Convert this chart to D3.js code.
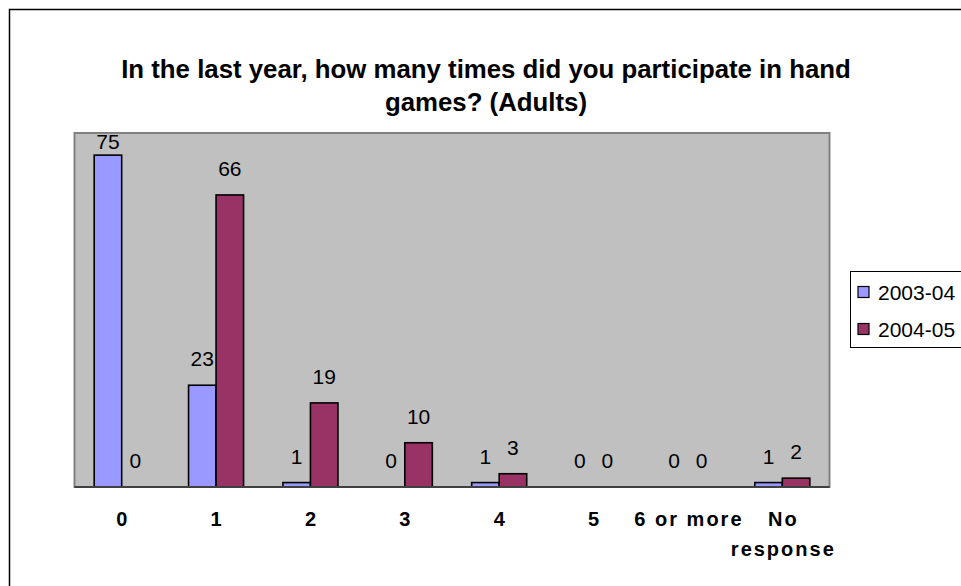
<!DOCTYPE html>
<html>
<head>
<meta charset="utf-8">
<script src="https://cdn.jsdelivr.net/npm/d3@7/dist/d3.min.js"></script>
<style>
  html, body { margin: 0; padding: 0; background: #fff; }
  svg { display: block; font-family: "Liberation Sans", Arial, sans-serif; }
</style>
</head>
<body>
<svg id="chart" width="961" height="586"></svg>
<script>
// Survey answers: hand games participation among adults (% of responses)
const categories = ["0", "1", "2", "3", "4", "5", "6 or more", "No response"];
const seriesNames = ["2003-04", "2004-05"];
const values2003 = [75, 23, 1, 0, 1, 0, 0, 1];
const values2004 = [0, 66, 19, 10, 3, 0, 0, 2];
const seriesColors = ["#9999ff", "#993366"];
const titleLines = ["In the last year, how many times did you participate in hand", "games? (Adults)"];
const yTitle = "% OF RESPONSE";

const svg = d3.select("#chart");
const plot = { left: 74.5, right: 829.5, top: 133, bottom: 487 };

// outer chart frame (runs past the right and bottom edges)
svg.append("rect")
  .attr("x", 9.5).attr("y", 9.5)
  .attr("width", 1200).attr("height", 1200)
  .attr("fill", "#fff").attr("stroke", "#000").attr("stroke-width", 1.5);

// title
svg.append("g").selectAll("text")
  .data(titleLines)
  .join("text")
  .attr("x", 486)
  .attr("y", (d, i) => 78 + i * 33)
  .attr("text-anchor", "middle")
  .attr("font-size", 25.8)
  .attr("font-weight", "bold")
  .attr("fill", "#000")
  .text(d => d);

const x0 = d3.scaleBand()
  .domain(categories)
  .range([plot.left, plot.right])
  .paddingInner(0.417)
  .paddingOuter(0.2085);

const x1 = d3.scaleBand()
  .domain(seriesNames)
  .range([0, x0.bandwidth()]);

const y = d3.scaleLinear().domain([0, 80]).range([plot.bottom, plot.top]);

// plot area
svg.append("rect")
  .attr("x", plot.left).attr("y", plot.top)
  .attr("width", plot.right - plot.left).attr("height", plot.bottom - plot.top)
  .attr("fill", "#c0c0c0").attr("stroke", "#808080").attr("stroke-width", 2);

const rows = categories.map((c, i) => ({
  cat: c,
  vals: [
    { name: seriesNames[0], v: values2003[i], color: seriesColors[0] },
    { name: seriesNames[1], v: values2004[i], color: seriesColors[1] }
  ]
}));

const groups = svg.append("g").selectAll("g")
  .data(rows)
  .join("g")
  .attr("transform", d => `translate(${x0(d.cat)},0)`);

groups.selectAll("rect")
  .data(d => d.vals.filter(s => s.v > 0))
  .join("rect")
  .attr("x", d => x1(d.name))
  .attr("y", d => y(d.v))
  .attr("width", x1.bandwidth())
  .attr("height", d => plot.bottom - y(d.v))
  .attr("fill", d => d.color)
  .attr("stroke", "#000")
  .attr("stroke-width", 1.6);

// value labels above each bar, kept inside the plot area
groups.selectAll("text")
  .data(d => d.vals)
  .join("text")
  .attr("x", d => x1(d.name) + x1.bandwidth() / 2)
  .attr("y", d => Math.max(y(d.v) - 19, plot.top + 16))
  .attr("text-anchor", "middle")
  .attr("font-size", 21)
  .attr("fill", "#000")
  .text(d => d.v);

// x axis line
svg.append("line")
  .attr("x1", plot.left).attr("x2", plot.right)
  .attr("y1", plot.bottom).attr("y2", plot.bottom)
  .attr("stroke", "#404040").attr("stroke-width", 2);

// category labels (wrap on spaces for the long one)
const xAxis = d3.axisBottom(x0).tickSize(0).tickPadding(0);
const axisG = svg.append("g")
  .attr("transform", `translate(0,${plot.bottom})`)
  .call(xAxis);
axisG.select(".domain").remove();
axisG.selectAll(".tick text")
  .attr("font-family", "\"Liberation Sans\", Arial, sans-serif")
  .attr("font-size", 20)
  .attr("font-weight", "bold")
  .attr("letter-spacing", 2)
  .attr("fill", "#000")
  .attr("dy", null)
  .attr("y", 39)
  .each(function(d) {
    const t = d3.select(this);
    const words = d === "No response" ? ["No", "response"] : [d];
    t.text(null);
    words.forEach((w, i) => {
      t.append("tspan")
        .attr("x", 1)
        .attr("dy", i === 0 ? 0 : 30)
        .text(w);
    });
  });

// y axis title, clipped by the chart area edge
svg.append("clipPath").attr("id", "ytclip")
  .append("rect").attr("x", 0).attr("y", 215).attr("width", 73).attr("height", 300);
svg.append("text")
  .attr("clip-path", "url(#ytclip)")
  .attr("transform", "translate(51,397) rotate(-90)")
  .attr("font-size", 18)
  .attr("font-weight", "bold")
  .attr("letter-spacing", 2.5)
  .attr("fill", "#000")
  .text(yTitle);

// legend
const legend = svg.append("g");
legend.append("rect")
  .attr("x", 850.5).attr("y", 271.5)
  .attr("width", 200).attr("height", 76)
  .attr("fill", "#fff").attr("stroke", "#000").attr("stroke-width", 1);
const items = legend.selectAll("g.item")
  .data(seriesNames.map((n, i) => ({ n, c: seriesColors[i] })))
  .join("g").attr("class", "item")
  .attr("transform", (d, i) => `translate(0,${292 + i * 37})`);
items.append("rect")
  .attr("x", 858).attr("y", -5.5).attr("width", 11).attr("height", 11)
  .attr("fill", d => d.c).attr("stroke", "#000").attr("stroke-width", 1.2);
items.append("text")
  .attr("x", 878).attr("y", 7.5)
  .attr("font-size", 21)
  .attr("fill", "#000")
  .text(d => d.n);
</script>
</body>
</html>
